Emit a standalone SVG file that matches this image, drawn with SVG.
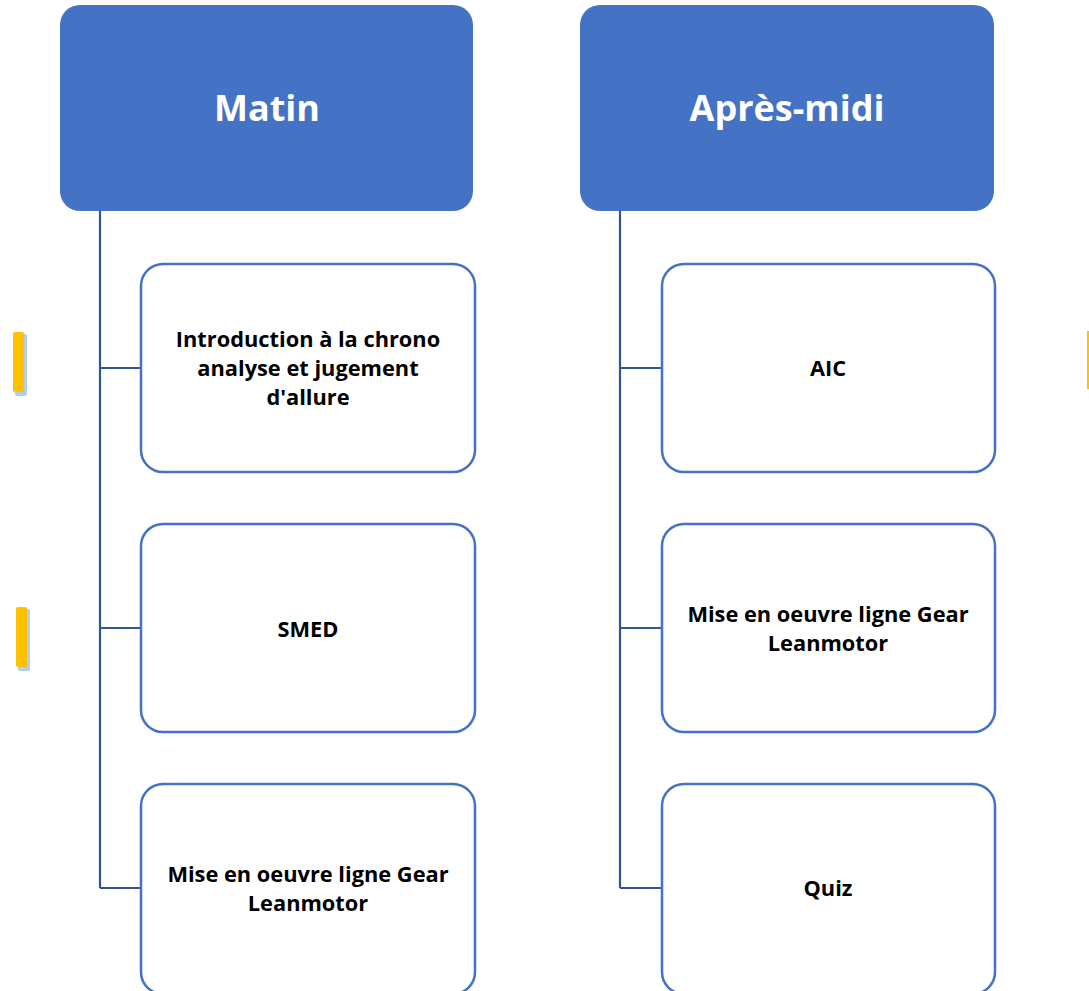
<svg xmlns="http://www.w3.org/2000/svg" width="1089" height="991" viewBox="0 0 1089 991">
<style>
.hdr{fill:#4472C4;}
.ht{font-family:"Open Sans","Liberation Sans",sans-serif;font-weight:bold;font-size:36px;fill:#fff;text-anchor:middle;}
.box{fill:#fff;stroke:#4472C4;stroke-width:2.5;}
.bt{font-family:"Open Sans","Liberation Sans",sans-serif;font-weight:bold;font-size:21.8px;fill:#000;text-anchor:middle;}
.con{fill:none;stroke:#2F5597;stroke-width:2.2;}
.bar{fill:#FFC000;}
.sh{fill:#9DC3E6;opacity:0.8;}
</style>
<rect class="sh" x="15" y="334" width="12" height="62" rx="2"/>
<rect class="bar" x="13" y="332" width="11" height="60" rx="2"/>
<rect class="sh" x="18" y="609" width="12" height="62" rx="2"/>
<rect class="bar" x="16" y="607" width="11" height="60" rx="2"/>
<rect class="bar" x="1087" y="331" width="3" height="58"/>
<g id="connectors">
<path class="con" d="M100,211 V888 M100,368 H141 M100,628 H141 M100,888 H141"/>
<path class="con" d="M620,211 V888 M620,368 H662 M620,628 H662 M620,888 H662"/>
</g>
<g id="matin"><rect class="hdr" x="60" y="5" width="413" height="206" rx="20"/><text class="ht" x="267" y="121">Matin</text></g>
<g id="apres-midi"><rect class="hdr" x="580" y="5" width="414" height="206" rx="20"/><text class="ht" x="787" y="121">Après-midi</text></g>
<g id="m1"><rect class="box" x="141" y="264" width="334" height="208" rx="22"/><text class="bt" x="308" y="347">Introduction à la chrono</text><text class="bt" x="308" y="376">analyse et jugement</text><text class="bt" x="308" y="405">d'allure</text></g>
<g id="m2"><rect class="box" x="141" y="524" width="334" height="208" rx="22"/><text class="bt" x="308" y="637">SMED</text></g>
<g id="m3"><rect class="box" x="141" y="784" width="334" height="210" rx="22"/><text class="bt" x="308" y="882">Mise en oeuvre ligne Gear</text><text class="bt" x="308" y="911">Leanmotor</text></g>
<g id="a1"><rect class="box" x="662" y="264" width="333" height="208" rx="22"/><text class="bt" x="828" y="376">AIC</text></g>
<g id="a2"><rect class="box" x="662" y="524" width="333" height="208" rx="22"/><text class="bt" x="828" y="622">Mise en oeuvre ligne Gear</text><text class="bt" x="828" y="651">Leanmotor</text></g>
<g id="a3"><rect class="box" x="662" y="784" width="333" height="210" rx="22"/><text class="bt" x="828" y="896">Quiz</text></g>
</svg>
